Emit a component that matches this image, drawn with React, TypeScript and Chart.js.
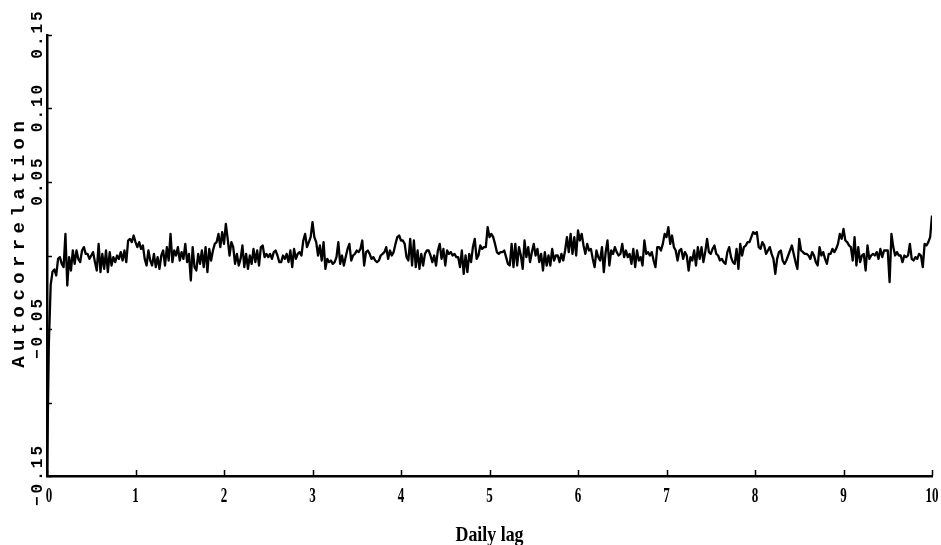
import { useEffect, useRef } from "react";
import { Chart, registerables } from "chart.js";

Chart.register(...registerables);

// Autocorrelation at 30-minute lags (48 per day)
const LAGS_PER_DAY = 48;

const acfDay1 = [-0.15, -0.06, -0.02, -0.011, -0.0095, -0.0136, -0.0023, -0.0011, -0.0057, -0.0079,
  0.0147, -0.0204, -0.0011, -0.0102, 0.0034, -0.0057, 0.0034, -0.0023, -0.0045, 0.0034,
  0.0057, 0.0011, 0.0011, -0.0023, 0, 0.0023, -0.0045, -0.0102, 0.0079, -0.0113,
  0.0011, -0.0091, 0.0034, -0.0113, 0.0023, -0.0068, -0.0011, -0.0045, 0, -0.0023,
  0.0023, -0.0034, 0.0034, -0.0045, 0.0102, 0.0113, 0.0091, 0.0136];
const acfDay2 = [0.0091, 0.0057, 0.0091, 0.0045, 0.0068, -0.0023, -0.0068, 0.0034, -0.0034, -0.0068,
  0.0011, -0.0079, -0.0011, -0.0091, 0, 0.0034, -0.0068, 0.0057, -0.0034, 0.0147,
  -0.0045, 0.0034, 0, 0.0057, -0.0034, 0.0023, -0.0023, 0.0079, -0.0045, 0.0011,
  -0.017, 0.0057, -0.0079, -0.0102, 0.0011, -0.0057, 0.0034, -0.0079, 0.0057, -0.0113,
  0.0045, -0.0034, 0.0034, 0.0079, 0.0091, 0.0147, 0.0057, 0.0159];
const acfDay3 = [0.0079, 0.0215, 0.0113, 0, 0.0091, 0.0057, -0.0057, 0.0011, -0.0068, -0.0023,
  0.0068, -0.0079, 0.0011, -0.0091, 0, -0.0057, 0.0045, -0.0045, 0.0034, -0.0068,
  0.0057, 0.0068, -0.0011, 0.0011, -0.0011, 0.0011, -0.0023, 0.0023, 0.0034, 0,
  -0.0045, -0.0045, 0, -0.0023, 0.0011, -0.0045, 0.0034, -0.0079, 0.0045, -0.0023,
  0.0011, 0.0023, 0, 0.0102, 0.0147, 0.0057, 0.0091, 0.0125];
const acfDay4 = [0.0227, 0.0125, 0.0091, 0, 0.0068, -0.0034, 0.0091, -0.0091, -0.0023, -0.0045,
  -0.0034, -0.0057, -0.0045, -0.0011, 0.0091, -0.0057, 0, -0.0068, -0.0011, 0.0045,
  0.0079, -0.0034, 0, 0.0011, 0.0034, 0.0023, 0.0045, 0.0102, -0.0068, 0.0023,
  0.0034, 0.0011, -0.0023, -0.0011, -0.0034, -0.0045, -0.0034, 0, 0.0011, 0.0023,
  0.0057, -0.0023, 0.0034, 0, 0.0023, 0.0079, 0.0125, 0.0136];
const acfDay5 = [0.0102, 0.0102, 0.0079, -0.0011, -0.0034, 0.0113, -0.0068, 0.0102, -0.0079, 0.0034,
  -0.0091, 0.0011, -0.0068, 0.0011, 0.0034, 0.0034, 0, -0.0045, 0, -0.0068,
  0.0034, 0.0079, -0.0023, 0.0045, -0.0068, 0.0034, 0.0011, 0.0023, 0, 0.0011,
  -0.0011, -0.0011, -0.0079, 0.0034, -0.0125, 0, -0.0113, 0.0011, -0.0045, 0.0057,
  0.0113, -0.0023, 0, 0.0068, 0.0045, 0.0057, 0.0057, 0.0193];
const acfDay6 = [0.0125, 0.0147, 0.0125, 0.0079, 0.0023, 0.0011, 0.0023, 0.0023, 0.0034, -0.0011,
  -0.0057, -0.0068, 0.0079, -0.0079, 0.0079, -0.0068, 0.0057, 0, -0.0091, 0.0102,
  -0.0011, 0.0057, -0.0045, 0.0023, 0.0079, 0, 0.0045, -0.0045, 0.0011, -0.0102,
  0.0023, -0.0068, 0, -0.0068, 0.0045, -0.0034, 0, 0, -0.0045, 0.0011,
  -0.0034, 0.0034, 0.0125, 0.0023, 0.0147, 0.0011, 0.0125, 0];
const acfDay7 = [0.017, 0.0102, 0.0147, 0.0068, 0.0011, 0.0079, 0.0034, 0.0045, -0.0023, -0.0079,
  0.0034, -0.0011, -0.0034, 0.0057, -0.0113, 0.0023, 0.0102, -0.0068, 0.0034, 0.0011,
  0.0057, 0.0023, 0, 0.0011, 0.0079, -0.0011, 0.0034, -0.0011, 0.0011, -0.0057,
  0.0045, -0.0079, 0.0034, -0.0034, -0.0011, -0.0068, 0.0102, 0.0011, 0.0023, 0,
  0.0023, -0.0034, -0.0079, 0.0057, 0.0057, 0.0034, 0.0079, 0.0147];
const acfDay8 = [0.0125, 0.0193, 0.0079, 0.0136, 0.0057, 0.0034, -0.0034, 0.0034, 0.0045, -0.0023,
  0.0023, 0, -0.0102, -0.0011, -0.0034, 0.0034, -0.0068, 0.0057, -0.0023, 0.0057,
  -0.0045, 0.0023, 0.0113, 0.0023, 0.0011, 0.0045, 0.0068, 0.0011, 0, -0.0034,
  -0.0023, -0.0045, -0.0057, 0.0023, 0.0057, -0.0011, -0.0045, -0.0057, 0.0045, -0.0091,
  0.0079, 0, 0.0057, 0.0068, 0.0091, 0.0091, 0.0125, 0.0159];
const acfDay9 = [0.0147, 0.0159, 0.0057, 0.0045, 0.0091, 0.0068, 0.0011, 0.0034, 0.0057, 0.0011,
  -0.0023, -0.0125, -0.0023, 0.0023, 0.0034, -0.0034, -0.0057, -0.0034, 0, 0.0034,
  0.0068, 0.0011, -0.0045, -0.0091, 0.0113, 0.0034, 0.0023, 0.0011, 0.0011, 0,
  -0.0023, 0.0023, 0, -0.0045, -0.0068, 0.0057, 0, 0.0023, -0.0023, -0.0057,
  0.0011, 0.0011, 0.0045, 0.0023, 0.0045, 0.0079, 0.0147, 0.0113];
const acfDay10 = [0.0181, 0.0102, 0.0091, 0.0068, 0.0057, -0.0034, 0.0125, -0.0068, 0.0057, -0.0045,
  0, 0.0011, -0.0102, 0.0068, -0.0023, 0, 0.0011, 0, 0.0023, -0.0023,
  0.0045, -0.0011, 0.0034, 0.0034, 0.0034, -0.0181, 0.0147, 0.0057, 0, 0.0023,
  0, 0, -0.0045, 0, -0.0011, 0, 0.0079, -0.0023, -0.0034, -0.0011,
  -0.0023, 0.0011, 0, -0.0079, 0.0079, 0.0068, 0.0091, 0.0125, 0.0272];

const autocorrelation = [
  ...acfDay1, ...acfDay2, ...acfDay3, ...acfDay4, ...acfDay5,
  ...acfDay6, ...acfDay7, ...acfDay8, ...acfDay9, ...acfDay10,
];

const xTickValues = [0, 1, 2, 3, 4, 5, 6, 7, 8, 9, 10];
const xTickLabels = ["0", "1", "2", "3", "4", "5", "6", "7", "8", "9", "10"];
const yTickValues = [-0.15, -0.1, -0.05, 0, 0.05, 0.1, 0.15];
const yTickLabels = ["\u22120.15", "", "\u22120.05", "", "0.05", "0.10", "0.15"];
const xTitle = "Daily lag";
const yTitle = "Autocorrelation";

const axisDecor = {
  id: "axisDecor",
  afterDraw(chart: any) {
    const ctx = chart.ctx as CanvasRenderingContext2D;
    const xs = chart.scales.x;
    const ys = chart.scales.y;
    const area = chart.chartArea;
    ctx.save();
    ctx.strokeStyle = "#000";
    ctx.fillStyle = "#000";
    ctx.lineWidth = 1.5;
    // inward tick marks
    yTickValues.forEach((v) => {
      const py = Math.round(ys.getPixelForValue(v)) + 0.5;
      ctx.beginPath();
      ctx.moveTo(area.left, py);
      ctx.lineTo(area.left + 5, py);
      ctx.stroke();
    });
    xTickValues.forEach((v) => {
      const px = Math.round(xs.getPixelForValue(v)) + 0.5;
      ctx.beginPath();
      ctx.moveTo(px, area.bottom);
      ctx.lineTo(px, area.bottom - 6);
      ctx.stroke();
    });

    // x tick labels (condensed serif)
    ctx.font = "bold 21px 'Liberation Serif'";
    ctx.textAlign = "center";
    ctx.textBaseline = "alphabetic";
    xTickValues.forEach((v, k) => {
      const px = xs.getPixelForValue(v);
      ctx.save();
      ctx.translate(px + (v === 0 ? 2 : 0), area.bottom + 26);
      ctx.scale(0.62, 1);
      ctx.fillText(xTickLabels[k], 0, 0);
      ctx.restore();
    });

    // x title
    ctx.font = "bold 22px 'Liberation Serif'";
    const tw = ctx.measureText(xTitle).width;
    ctx.save();
    ctx.translate((area.left + area.right) / 2, area.bottom + 65);
    ctx.scale(68 / tw, 1);
    ctx.fillText(xTitle, 0, 0);
    ctx.restore();

    // y tick labels, rotated, monospace with spacing
    ctx.font = "bold 16px 'Liberation Mono'";
    (ctx as any).letterSpacing = "3px";
    yTickValues.forEach((v, k) => {
      const label = yTickLabels[k];
      if (!label) return;
      const py = ys.getPixelForValue(v);
      ctx.save();
      ctx.translate(area.left - 5, py);
      ctx.rotate(-Math.PI / 2);
      ctx.textAlign = "center";
      ctx.textBaseline = "alphabetic";
      ctx.fillText(label, 1.5, 0);
      ctx.restore();
    });

    // y title
    ctx.font = "bold 19px 'Liberation Mono'";
    (ctx as any).letterSpacing = "5.4px";
    ctx.save();
    ctx.translate(area.left - 23, (area.top + area.bottom) / 2 - 11);
    ctx.rotate(-Math.PI / 2);
    ctx.textAlign = "center";
    ctx.textBaseline = "alphabetic";
    ctx.fillText(yTitle, 2.7, 0);
    ctx.restore();
    (ctx as any).letterSpacing = "0px";
    ctx.restore();
  },
};

export default function App() {
  const canvasRef = useRef<HTMLCanvasElement | null>(null);

  useEffect(() => {
    if (!canvasRef.current) return;
    const points = autocorrelation.map((y, i) => ({ x: i / LAGS_PER_DAY, y }));
    const chart = new Chart(canvasRef.current, {
      type: "line",
      data: {
        datasets: [
          {
            data: points,
            borderColor: "#000",
            borderWidth: 2.3,
            pointRadius: 0,
            tension: 0,
            borderJoinStyle: "round",
            fill: false,
          },
        ],
      },
      options: {
        responsive: false,
        maintainAspectRatio: false,
        animation: false,
        devicePixelRatio: 1,
        events: [],
        layout: { padding: { left: 0, top: 35, right: 9, bottom: 0 } },
        plugins: {
          legend: { display: false },
          tooltip: { enabled: false },
          title: { display: false },
        },
        scales: {
          x: {
            type: "linear",
            min: 0,
            max: 10,
            grid: { display: false },
            ticks: { display: false },
            border: { display: true, color: "#000", width: 2.5 },
            afterFit: (scale: any) => {
              scale.height = 69;
            },
          },
          y: {
            type: "linear",
            min: -0.15,
            max: 0.15,
            grid: { display: false },
            ticks: { display: false },
            border: { display: true, color: "#000", width: 2.5 },
            afterFit: (scale: any) => {
              scale.width = 47;
            },
          },
        },
      },
      plugins: [axisDecor],
    });
    return () => chart.destroy();
  }, []);

  return (
    <div style={{ position: "absolute", left: 0, top: 0, width: 941, height: 545, background: "#fff" }}>
      <canvas ref={canvasRef} width={941} height={545} style={{ display: "block" }} />
    </div>
  );
}
